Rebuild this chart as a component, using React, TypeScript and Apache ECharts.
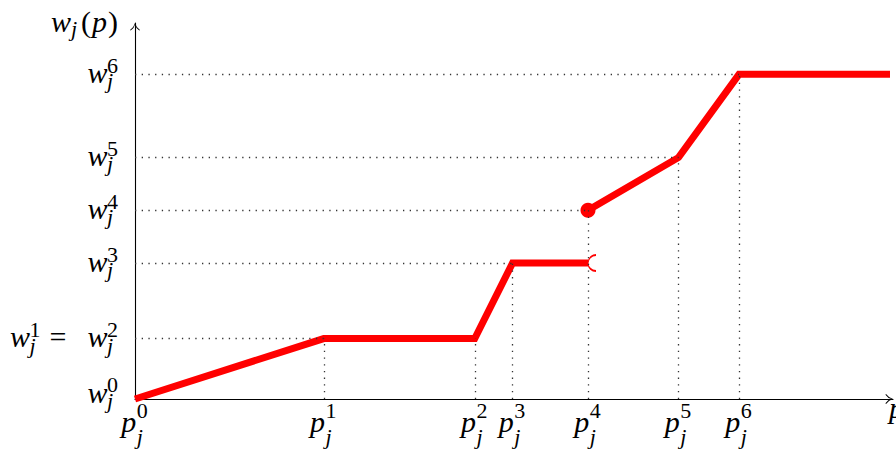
import React, { useEffect, useRef } from 'react';
import * as echarts from 'echarts';

// Breakpoints p_j^k on the p axis and the weight levels w_j^k on the w axis
const P_TICKS = [0, 5, 9, 10, 12, 14.4, 16];
const P_INDEX = ['0', '1', '2', '3', '4', '5', '6'];
const W_TICKS = [0, 1.6, 3.6, 5, 6.4, 8.6];
const W_INDEX = [['0'], ['1', '2'], ['3'], ['4'], ['5'], ['6']];

// Piecewise-linear w_j(p) with a jump at p_j^4
const LOWER_BRANCH = [[0, 0], [5, 1.6], [9, 1.6], [10, 3.6], [12, 3.6]];
const UPPER_BRANCH = [[12, 5], [14.4, 6.4], [16, 8.6], [20, 8.6]];
const CLOSED_END = [[12, 5]];
const OPEN_END = [[12, 3.6]];

// Dotted guides: [w, p] runs from the w axis, [p, w] rises from the p axis
const H_GUIDES = [[1.6, 5], [3.6, 10], [5, 12], [6.4, 14.4], [8.6, 16]];
const V_GUIDES = [[5, 1.6], [9, 1.6], [10, 3.6], [12, 5], [14.4, 6.4], [16, 8.6]];

const X_MAX = 20.08;
const Y_MAX = 9.96;
const UNIT = 37.75; // px per axis unit

const SERIF = 'Liberation Serif';
const BIG = 30;
const SMALL = 22;
const RED = '#ff0000';

// TikZ-like open arrow tip, pointing up before rotation
const ARROW = 'path://M5 0 Q6 4 10 7 L9.3 7.6 Q5.6 5 5 1.6 Q4.4 5 0.7 7.6 L0 7 Q4 4 5 0 Z';
// left half of a circle, used as the "(" open-end marker
const BRACKET = 'path://M10 0 C4.48 0 0 4.48 0 10 C0 15.52 4.48 20 10 20';

// A glyph run of a formula: advance width w, centre line shifted by dy
type Glyph = { size: number; italic: boolean; w: number; dy: number };
type Piece = Glyph & { t: string };
const g = (size: number, italic: boolean, w: number, dy: number): Glyph => ({ size, italic, w, dy });
const run = (t: string, s: Glyph): Piece => ({ t, ...s });

// w_j^k on the w axis
const YW = g(BIG, true, 19.5, -2);
const YSUB = g(SMALL, true, 0, 6.4);
const YSUP = g(SMALL, false, 14, -9.1);
const YW0 = g(BIG, true, 19.5, -7);
const YSUB0 = g(SMALL, true, 0, 1.4);
const YSUP0 = g(SMALL, false, 14, -14.1);
const YGAP1 = g(BIG, false, 6, -2);
const YEQ = g(BIG, false, 18, -2);
const YGAP2 = g(BIG, false, 20, -2);

// p_j^k on the p axis
const XP = g(BIG, true, 15.5, 0);
const XSUB = g(SMALL, true, 0, 15);
const XSUP = g(SMALL, false, 12, -11);

// axis names
const NW = g(BIG, true, 20, 0);
const NSUB = g(SMALL, true, 10, 7);
const NLP = g(BIG, false, 11, 0);
const NP = g(BIG, true, 16, 0);
const NRP = g(BIG, false, 10, 0);
const NPX = g(BIG, true, 16, 8);

const yLabel = (i: number): Piece[] => {
  const [w, sub, sup] = i === 0 ? [YW0, YSUB0, YSUP0] : [YW, YSUB, YSUP];
  const parts = W_INDEX[i].map((k) => [run('w', w), run('j', sub), run(k, sup)]);
  return parts.reduce<Piece[]>(
    (acc, p, n) => (n === 0 ? p : [...acc, run(' ', YGAP1), run('=', YEQ), run(' ', YGAP2), ...p]),
    [],
  );
};

const xLabel = (i: number): Piece[] => [run('p', XP), run('j', XSUB), run(P_INDEX[i], XSUP)];

const yName: Piece[] = [run('w', NW), run('j', NSUB), run('(', NLP), run('p', NP), run(')', NRP)];
const xName: Piece[] = [run('p', NPX)];

// lay a formula out left to right from an anchor point
const place = (pieces: Piece[], ax: number, ay: number, align: 'left' | 'right' | 'center') => {
  const total = pieces.reduce((a, p) => a + p.w, 0);
  let x = align === 'right' ? ax - total : align === 'center' ? ax - total / 2 : ax;
  return pieces
    .map((p) => {
      const el = {
        type: 'text',
        x,
        y: ay + p.dy,
        silent: true,
        z: 10,
        style: {
          text: p.t,
          fontFamily: SERIF,
          fontSize: p.size,
          fontStyle: p.italic ? 'italic' : 'normal',
          fill: '#000',
          align: 'left',
          verticalAlign: 'middle',
        },
      };
      x += p.w;
      return el;
    })
    .filter((el) => el.style.text.trim() !== '');
};

const axisLine = {
  show: true,
  onZero: false,
  lineStyle: { color: '#000', width: 1.1 },
  symbol: ['none', ARROW],
  symbolSize: [10, 7.6],
  symbolOffset: [0, -3.8],
};

export default function App() {
  const ref = useRef<HTMLDivElement>(null);

  useEffect(() => {
    if (!ref.current) return;
    const chart = echarts.init(ref.current, null, { renderer: 'svg' });
    const gridLeft = 135;
    const gridBottom = 51;
    chart.setOption({
      animation: false,
      backgroundColor: '#fff',
      grid: {
        left: gridLeft,
        bottom: gridBottom,
        right: 896 - gridLeft - X_MAX * UNIT,
        top: 450 - gridBottom - Y_MAX * UNIT,
        containLabel: false,
        outerBoundsMode: 'none',
      },
      xAxis: {
        type: 'value',
        min: 0,
        max: X_MAX,
        axisLine,
        axisTick: { show: false },
        splitLine: { show: false },
        axisLabel: { show: false },
      },
      yAxis: {
        type: 'value',
        min: 0,
        max: Y_MAX,
        axisLine,
        axisTick: { show: false },
        splitLine: { show: false },
        axisLabel: { show: false },
      },
      series: [
        {
          name: 'guides',
          type: 'line',
          data: [[0, 0]],
          showSymbol: false,
          lineStyle: { opacity: 0 },
          silent: true,
          z: 1,
          markLine: {
            silent: true,
            symbol: ['none', 'none'],
            label: { show: false },
            emphasis: { disabled: true },
            lineStyle: { color: '#333', width: 1.3, type: [1.3, 5.4] },
            data: [
              ...H_GUIDES.map(([w, p]) => [{ coord: [0, w] }, { coord: [p, w] }]),
              ...V_GUIDES.map(([p, w]) => [{ coord: [p, 0] }, { coord: [p, w] }]),
            ],
          },
        },
        {
          name: 'lower',
          type: 'line',
          data: LOWER_BRANCH,
          symbol: 'none',
          clip: false,
          z: 3,
          lineStyle: { color: RED, width: 7, join: 'miter', cap: 'butt' },
        },
        {
          name: 'upper',
          type: 'line',
          data: UPPER_BRANCH,
          symbol: 'none',
          clip: false,
          z: 3,
          lineStyle: { color: RED, width: 7, join: 'miter', cap: 'butt' },
        },
        {
          name: 'closed',
          type: 'scatter',
          data: CLOSED_END,
          symbol: 'circle',
          symbolSize: 15,
          z: 4,
          itemStyle: { color: RED, opacity: 1 },
        },
        {
          name: 'open',
          type: 'scatter',
          data: OPEN_END,
          symbol: BRACKET,
          symbolSize: [8, 16],
          symbolOffset: [4, 0],
          z: 4,
          itemStyle: { color: 'none', borderColor: RED, borderWidth: 1.4, opacity: 1 },
        },
      ],
    });

    // Math-style tick labels and axis names, anchored through the grid's own scales
    const px = (x: number, y: number) => chart.convertToPixel({ gridIndex: 0 }, [x, y]) as number[];
    const [ox, oy] = px(0, 0);
    const [ex] = px(X_MAX, 0);
    const [, ty] = px(0, Y_MAX);
    const labels = [
      ...W_TICKS.flatMap((w, i) => place(yLabel(i), ox - 14, px(0, w)[1], 'right')),
      ...P_TICKS.flatMap((p, i) => place(xLabel(i), px(p, 0)[0], oy + 22, 'center')),
      ...place(yName, ox - 17, ty - 2, 'right'),
      ...place(xName, ex - 4, oy, 'left'),
    ];
    chart.setOption({ graphic: labels });

    return () => chart.dispose();
  }, []);

  return (
    <div
      ref={ref}
      style={{ position: 'fixed', left: 0, top: 0, width: 896, height: 450, background: '#fff' }}
    />
  );
}
